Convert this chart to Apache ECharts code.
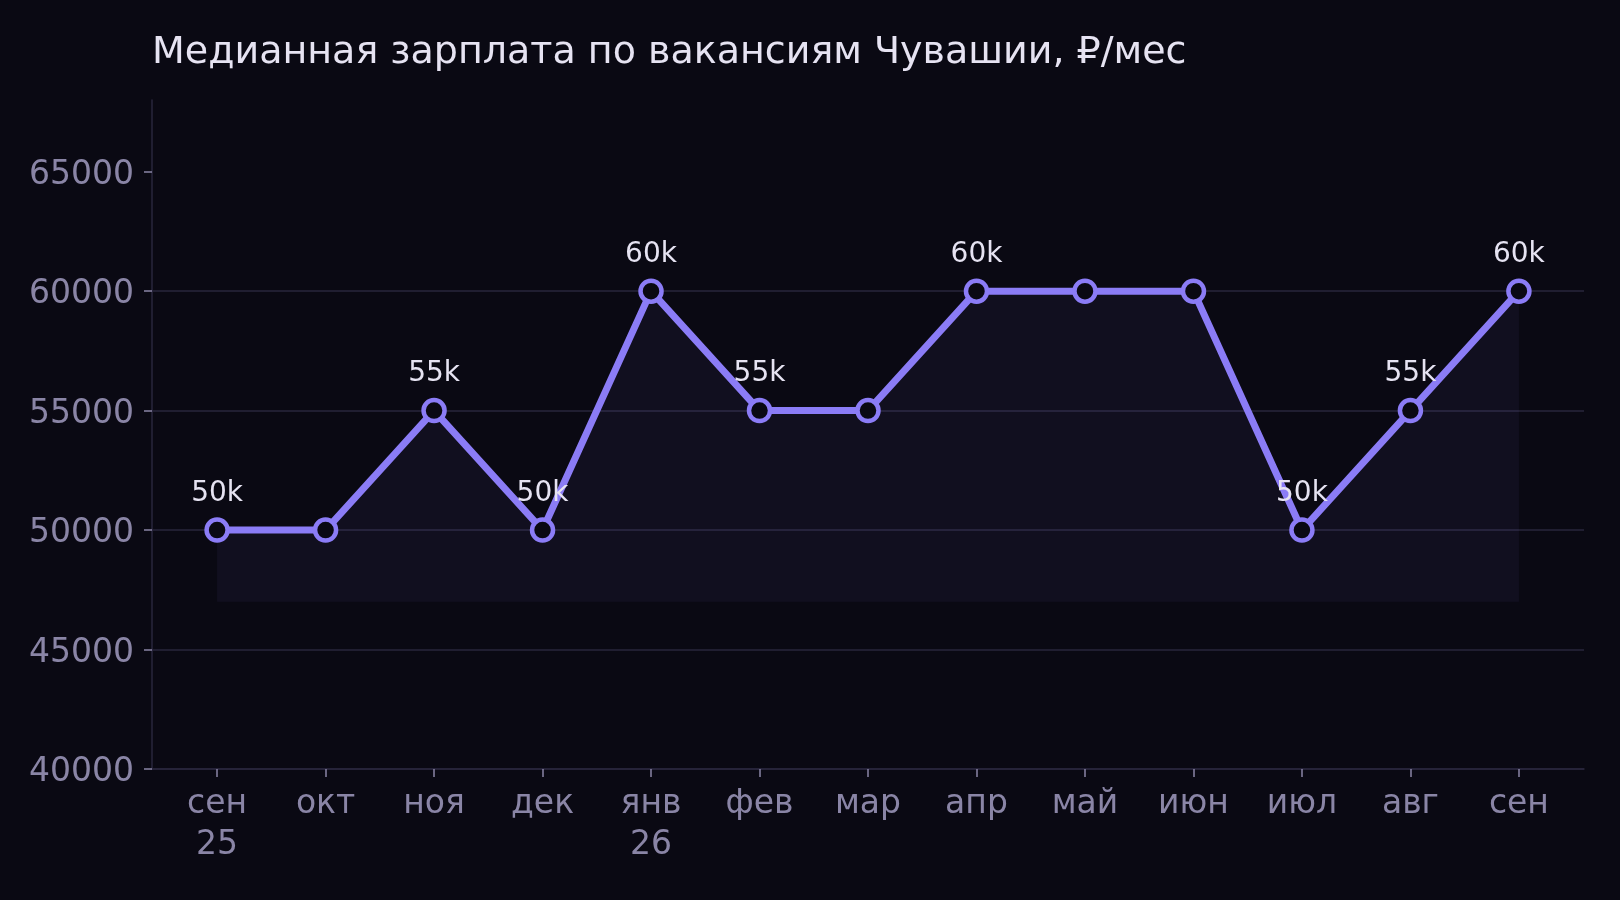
<!DOCTYPE html>
<html lang="ru">
<head>
    <meta charset="UTF-8">
    <title>Медианная зарплата</title>
    <script type="text/javascript" src="https://cdn.jsdelivr.net/npm/echarts@6/dist/echarts.min.js"></script>
    <style>
        html, body { margin: 0; padding: 0; background: #0a0913; }
        #chart { width: 1620px; height: 900px; }
    </style>
</head>
<body>
<div id="chart"></div>
<script type="text/javascript">
    // месяцы (подписи оси X)
    var months = ['сен\n25', 'окт', 'ноя', 'дек', 'янв\n26', 'фев', 'мар', 'апр', 'май', 'июн', 'июл', 'авг', 'сен'];
    // медианная зарплата, ₽/мес
    var salary = [50000, 50000, 55000, 50000, 60000, 55000, 55000, 60000, 60000, 60000, 50000, 55000, 60000];
    // деления оси Y
    var yTicks = [40000, 45000, 50000, 55000, 60000, 65000];

    var font = 'DejaVu Sans';
    var violet = '#8b7cf6';
    var muted = '#8a85a6';
    var gridColor = '#29263d';

    var monthIdx = [];
    var points = [];
    for (var i = 0; i < salary.length; i++) {
        monthIdx.push(i);
        points.push([i, salary[i]]);
    }

    var chart = echarts.init(document.getElementById('chart'));

    var option = {
        backgroundColor: '#0a0913',
        animation: false,
        title: {
            text: 'Медианная зарплата по вакансиям Чувашии, ₽/мес',
            left: 147,
            top: 29,
            textStyle: { color: '#e6e3f2', fontFamily: font, fontSize: 38, fontWeight: 'normal' }
        },
        grid: { left: 152, right: 36, top: 100, bottom: 131 },
        xAxis: {
            type: 'value',
            min: -0.6,
            max: 12.6,
            axisLine: { show: true, onZero: false, lineStyle: { color: gridColor, width: 1.5 } },
            axisTick: { show: true, length: 8, customValues: monthIdx, lineStyle: { color: muted, width: 1.5 } },
            axisLabel: {
                customValues: monthIdx,
                color: muted, fontFamily: font, fontSize: 33, lineHeight: 41, margin: 15,
                verticalAlign: 'top',
                formatter: function (v) { return months[Math.round(v)]; }
            },
            splitLine: { show: false }
        },
        yAxis: {
            type: 'value',
            min: 40000,
            max: 68000,
            interval: 5000,
            axisLine: { show: true, onZero: false, lineStyle: { color: gridColor, width: 1.5 } },
            axisTick: { show: true, length: 8, customValues: yTicks, lineStyle: { color: muted, width: 1.5 } },
            axisLabel: {
                customValues: yTicks, color: muted, fontFamily: font, fontSize: 33, margin: 18,
                verticalAlign: 'top', lineHeight: 33, padding: [-13, 0, 0, 0],
                formatter: function (v) { return String(v); }
            },
            splitLine: { show: true, showMaxLine: false, lineStyle: { color: gridColor, width: 1.5 } }
        },
        series: [{
            type: 'line',
            data: points,
            symbol: 'circle',
            symbolSize: 21,
            lineStyle: { color: violet, width: 7 },
            itemStyle: { color: '#0a0913', borderColor: violet, borderWidth: 4.5 },
            areaStyle: { color: 'rgba(139,124,246,0.08)', origin: 47000 },
            label: {
                show: true,
                position: 'top',
                distance: 10,
                color: '#e6e3f2',
                fontFamily: font,
                fontSize: 28,
                formatter: function (p) {
                    var k = p.dataIndex;
                    // подпись только там, где значение меняется
                    if (k > 0 && salary[k] === salary[k - 1]) return '';
                    return (salary[k] / 1000) + 'k';
                }
            },
            z: 3
        }]
    };

    chart.setOption(option);
</script>
</body>
</html>
